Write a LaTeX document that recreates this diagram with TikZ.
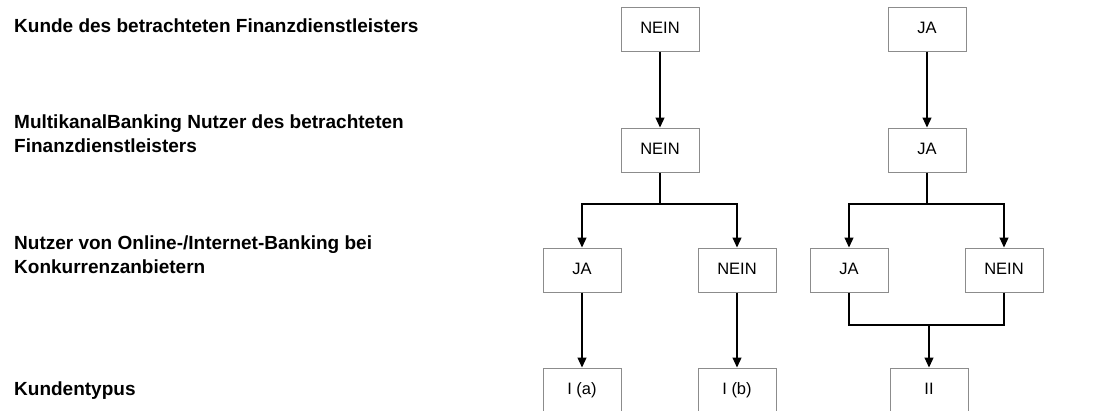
\documentclass[tikz,border=0pt]{standalone}
\usepackage{fontspec}
\setmainfont{Liberation Sans}
\usetikzlibrary{arrows.meta}
\begin{document}
\begin{tikzpicture}[x=1pt,y=-1pt,
  box/.style={draw=black!45, line width=1pt, minimum width=78pt, minimum height=44pt,
    inner sep=0pt, font=\fontsize{16.5}{19}\selectfont, text height=12pt, text depth=3pt},
  rowlabel/.style={anchor=base west, inner sep=0pt, align=left,
    font=\bfseries\fontsize{19}{24}\selectfont},
  link/.style={line width=1.2pt, -{Triangle[length=10pt,width=9pt]}},
  plainline/.style={line width=1.2pt}]
\useasboundingbox (0,0) rectangle (1116,410);

% row captions
\node[rowlabel] (l1) at (14,32) {Kunde des betrachteten Finanzdienstleisters};
\node[rowlabel] (l2) at (14,152) {MultikanalBanking Nutzer des betrachteten\\Finanzdienstleisters};
\node[rowlabel] (l3) at (14,273) {Nutzer von Online-/Internet-Banking bei\\Konkurrenzanbietern};
\node[rowlabel] (l4) at (14,395) {Kundentypus};

% decision boxes
\node[box] (a1) at (660,29) {NEIN};
\node[box] (b1) at (927,29) {JA};
\node[box] (a2) at (660,150) {NEIN};
\node[box] (b2) at (927,150) {JA};
\node[box] (c1) at (582,270) {JA};
\node[box] (c2) at (737,270) {NEIN};
\node[box] (c3) at (849,270) {JA};
\node[box] (c4) at (1004,270) {NEIN};
\node[box] (d1) at (582,390) {I (a)};
\node[box] (d2) at (737,390) {I (b)};
\node[box] (d3) at (929,390) {II};

% branch and merge points
\coordinate (sa) at (660,204);
\coordinate (sb) at (927,204);
\coordinate (m) at (929,325);

% connectors
\draw[link] (a1) -- (a2);
\draw[link] (b1) -- (b2);
\draw[plainline] (a2) -- (sa);
\draw[link] (sa) -| (c1);
\draw[link] (sa) -| (c2);
\draw[plainline] (b2) -- (sb);
\draw[link] (sb) -| (c3);
\draw[link] (sb) -| (c4);
\draw[link] (c1) -- (d1);
\draw[link] (c2) -- (d2);
\draw[plainline] (c3.south) |- (m);
\draw[plainline] (c4.south) |- (m);
\draw[link] (m) -- (d3);
\end{tikzpicture}
\end{document}
